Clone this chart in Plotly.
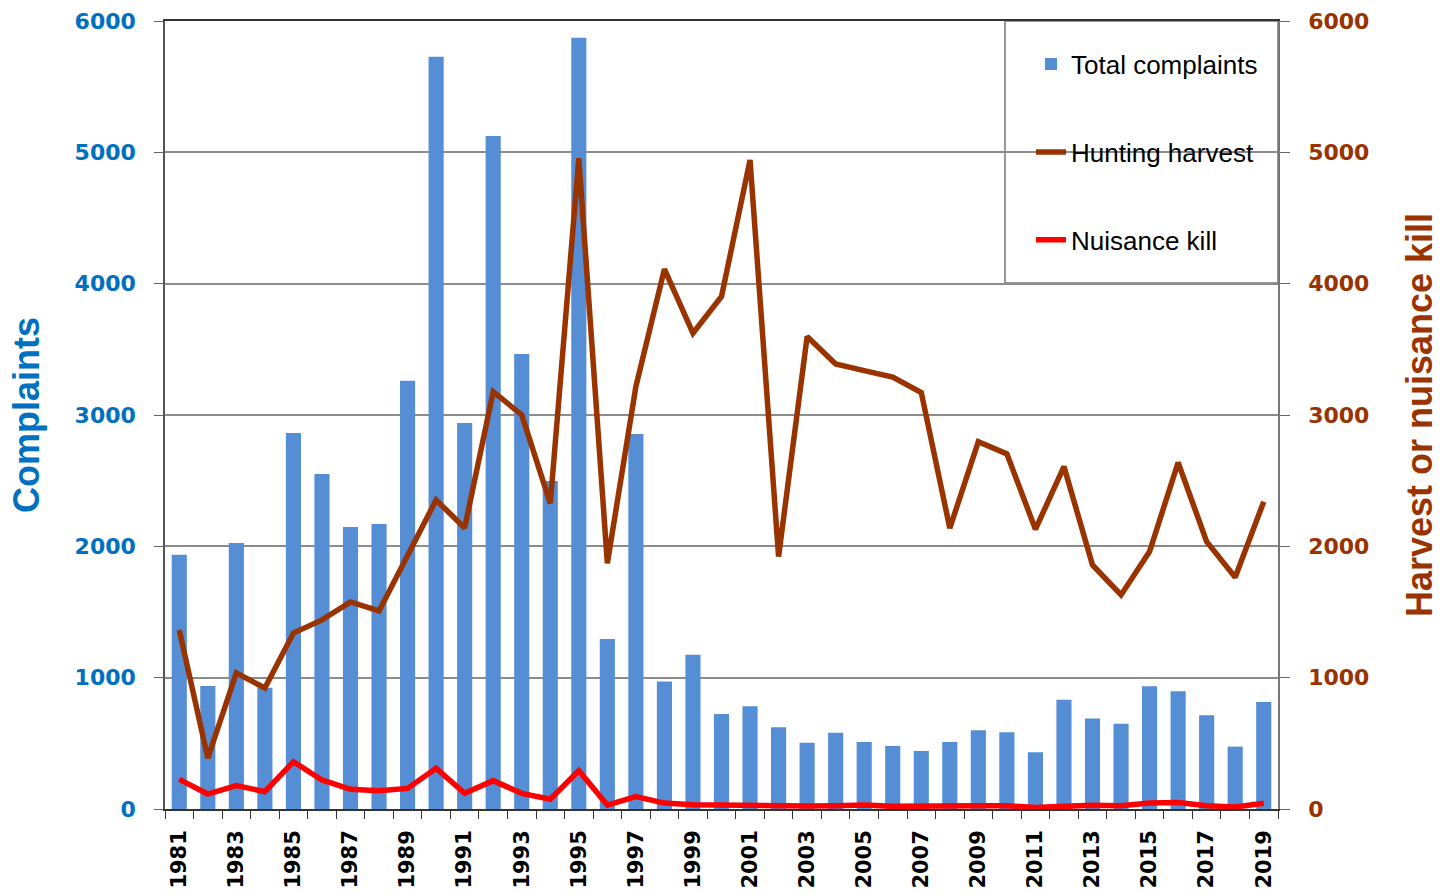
import plotly.graph_objects as go

years = list(range(1981, 2020))
complaints = [1935, 937, 2026, 924, 2863, 2551, 2148, 2170, 3260, 5727,
              2940, 5125, 3465, 2498, 5872, 1295, 2856, 970, 1175, 723,
              782, 622, 505, 581, 510, 480, 442, 510, 599, 584,
              432, 832, 690, 650, 934, 896, 713, 475, 815]
harvest = [1363, 388, 1036, 921, 1340, 1440, 1577, 1508, 1930, 2353,
           2140, 3178, 3001, 2327, 4955, 1871, 3216, 4110, 3623, 3902,
           4942, 1922, 3597, 3389, 3338, 3288, 3171, 2138, 2797, 2704,
           2130, 2607, 1858, 1630, 1960, 2638, 2036, 1765, 2340]
nuisance = [226, 114, 178, 132, 360, 221, 150, 139, 157, 310,
            119, 216, 119, 74, 292, 30, 94, 45, 32, 30,
            28, 18, 22, 25, 30, 20, 25, 22, 25, 25,
            12, 20, 28, 25, 45, 50, 25, 15, 43]
tick_years = list(range(1981, 2020, 2))
y_ticks = [0, 1000, 2000, 3000, 4000, 5000, 6000]

BLUE_BAR = "#558ED5"
BROWN = "#993300"
RED = "#FF0000"
LBLUE = "#0070C0"

fig = go.Figure()
fig.add_trace(go.Bar(x=years, y=complaints, name="Total complaints",
                     marker=dict(color=BLUE_BAR, line=dict(width=0)),
                     width=0.53, legendgroup="a", yaxis="y"))
fig.add_trace(go.Scatter(x=years, y=harvest, name="Hunting harvest", mode="lines",
                         line=dict(color=BROWN, width=5.5), legendgroup="b", yaxis="y2"))
fig.add_trace(go.Scatter(x=years, y=nuisance, name="Nuisance kill", mode="lines",
                         line=dict(color=RED, width=5.5), legendgroup="c", yaxis="y2"))

fig.update_layout(
    width=1452, height=894,
    margin=dict(l=165, r=174, t=21, b=85, autoexpand=False),
    paper_bgcolor="white", plot_bgcolor="white",
    showlegend=True,
    legend=dict(x=(1031 - 165) / 1113, y=0.975, xanchor="left", yanchor="top",
                bgcolor="rgba(0,0,0,0)", borderwidth=0,
                font=dict(family="Liberation Sans", size=26, color="black"),
                tracegroupgap=51, traceorder="grouped"),
    xaxis=dict(range=[1980.5, 2019.5], tickmode="array", tickvals=tick_years,
               ticktext=[str(y) for y in tick_years], tickangle=-90,
               ticks="", ticklabelstandoff=11,
               tickfont=dict(family="DejaVu Sans", size=21, color="black", weight="bold"),
               showline=True, linecolor="#333333", linewidth=1.5, mirror=True,
               showgrid=False, zeroline=False, automargin=False,
               minor=dict(ticks="outside", tick0=1980.5, dtick=1, ticklen=8,
                          tickcolor="#333333", tickwidth=1.2, showgrid=False)),
    yaxis=dict(range=[0, 6000], tickmode="array", tickvals=y_ticks,
               ticks="outside", ticklen=9, tickcolor="#666666", ticklabelstandoff=14,
               tickfont=dict(family="DejaVu Sans", size=22, color=LBLUE, weight="bold"),
               showline=True, linecolor="#555555", linewidth=1.5,
               showgrid=True, gridcolor="#8c8c8c", gridwidth=1.5, zeroline=False,
               automargin=False,
               title=dict(text="Complaints", standoff=24,
                          font=dict(family="Liberation Sans", size=36, color=LBLUE, weight="bold"))),
    yaxis2=dict(range=[0, 6000], tickmode="array", tickvals=y_ticks, overlaying="y", side="right",
                ticks="outside", ticklen=10, tickcolor="#666666", ticklabelstandoff=14,
                tickfont=dict(family="DejaVu Sans", size=22, color=BROWN, weight="bold"),
                showline=True, linecolor="#777777", linewidth=1.5,
                showgrid=False, zeroline=False, automargin=False,
                title=dict(text="Harvest or nuisance kill", standoff=38,
                           font=dict(family="Liberation Sans", size=36, color=BROWN, weight="bold"))),
    shapes=[dict(type="rect", xref="paper", yref="paper",
                 x0=(1005 - 165) / 1113, x1=1.0, y0=(809 - 283) / 788, y1=1.0,
                 line=dict(color="#777777", width=1.5), fillcolor="white", layer="below")],
)

fig.write_html("out.html", config={"displayModeBar": False},
               post_script="document.body.style.margin='0';document.body.style.overflow='hidden';")
